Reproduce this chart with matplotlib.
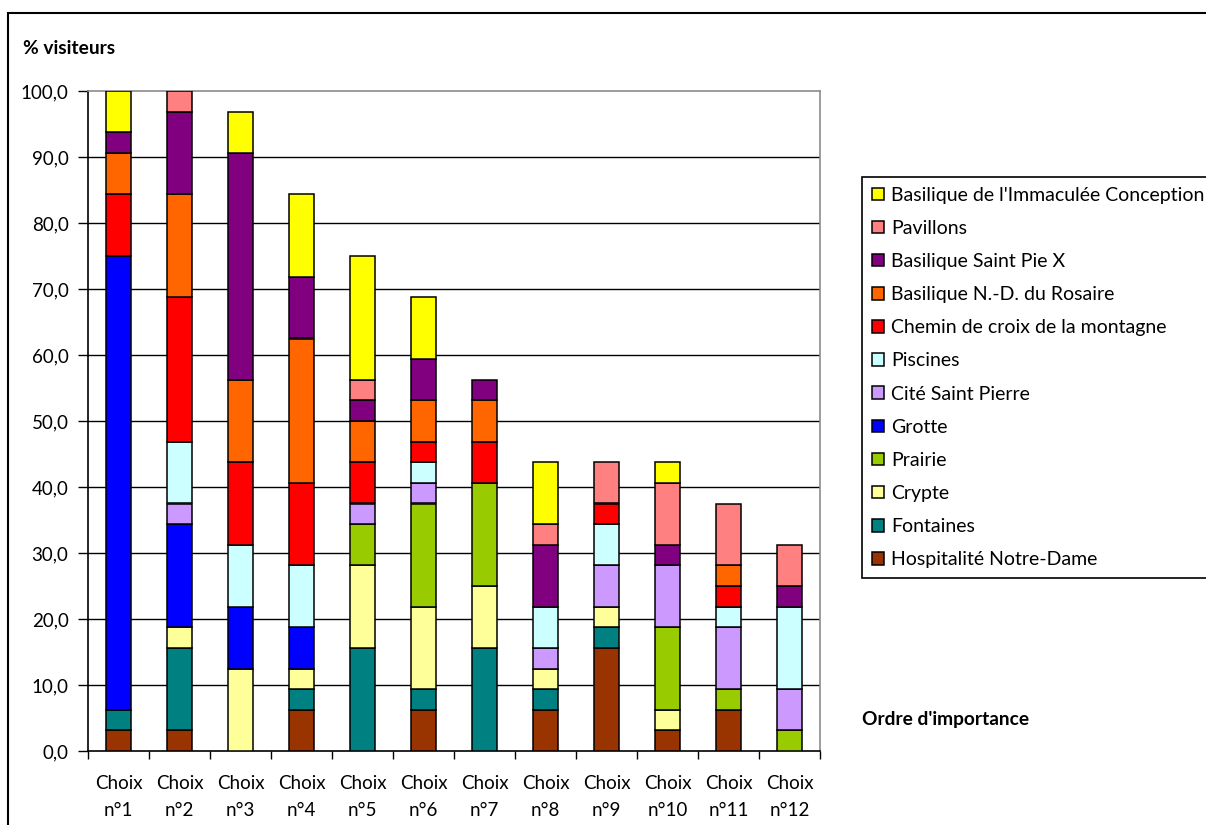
import matplotlib
matplotlib.use("Agg")
import matplotlib.pyplot as plt
import numpy as np
from matplotlib.patches import Rectangle

categories = ["Choix\nn°1", "Choix\nn°2", "Choix\nn°3", "Choix\nn°4", "Choix\nn°5", "Choix\nn°6",
              "Choix\nn°7", "Choix\nn°8", "Choix\nn°9", "Choix\nn°10", "Choix\nn°11", "Choix\nn°12"]

# series, bottom to top of the stack
hospitalite = [3.125, 3.125, 0, 6.25, 0, 6.25, 0, 6.25, 15.625, 3.125, 6.25, 0]
fontaines   = [3.125, 12.5, 0, 3.125, 15.625, 3.125, 15.625, 3.125, 3.125, 0, 0, 0]
crypte      = [0, 3.125, 12.5, 3.125, 12.5, 12.5, 9.375, 3.125, 3.125, 3.125, 0, 0]
prairie     = [0, 0, 0, 0, 6.25, 15.625, 15.625, 0, 0, 12.5, 3.125, 3.125]
grotte      = [68.75, 15.625, 9.375, 6.25, 0, 0, 0, 0, 0, 0, 0, 0]
cite        = [0, 3.125, 0, 0, 3.125, 3.125, 0, 3.125, 6.25, 9.375, 9.375, 6.25]
piscines    = [0, 9.375, 9.375, 9.375, 0, 3.125, 0, 6.25, 6.25, 0, 3.125, 12.5]
chemin      = [9.375, 21.875, 12.5, 12.5, 6.25, 3.125, 6.25, 0, 3.125, 0, 3.125, 0]
rosaire     = [6.25, 15.625, 12.5, 21.875, 6.25, 6.25, 6.25, 0, 0, 0, 3.125, 0]
piex        = [3.125, 12.5, 34.375, 9.375, 3.125, 6.25, 3.125, 9.375, 0, 3.125, 0, 3.125]
pavillons   = [0, 3.125, 0, 0, 3.125, 0, 0, 3.125, 6.25, 9.375, 9.375, 6.25]
immaculee   = [6.25, 0, 6.25, 12.5, 18.75, 9.375, 0, 9.375, 0, 3.125, 0, 0]

series_names = ["Hospitalité Notre-Dame", "Fontaines", "Crypte", "Prairie", "Grotte",
                "Cité Saint Pierre", "Piscines", "Chemin de croix de la montagne",
                "Basilique N.-D. du Rosaire", "Basilique Saint Pie X", "Pavillons",
                "Basilique de l'Immaculée Conception"]
series_values = [hospitalite, fontaines, crypte, prairie, grotte, cite, piscines,
                 chemin, rosaire, piex, pavillons, immaculee]
colors = ["#993300", "#008080", "#FFFF99", "#99CC00", "#0000FF", "#CC99FF",
          "#CCFFFF", "#FF0000", "#FF6600", "#800080", "#FF8080", "#FFFF00"]

yticks = [0, 10, 20, 30, 40, 50, 60, 70, 80, 90, 100]
ytick_labels = ["0,0", "10,0", "20,0", "30,0", "40,0", "50,0", "60,0", "70,0",
                "80,0", "90,0", "100,0"]

FONT = "Lato"
plt.rcParams['font.family'] = [FONT, 'DejaVu Sans']

W, H = 1206, 825
fig = plt.figure(figsize=(W / 100, H / 100), dpi=100)
ax = fig.add_axes([88 / W, 1 - 751 / H, (820 - 88) / W, (751 - 91) / H])

x = np.arange(len(categories))
bottom = np.zeros(len(categories))
handles = []
for name, vals, col in zip(series_names, series_values, colors):
    v = np.array(vals, dtype=float)
    mask = v > 0
    b = ax.bar(x[mask], v[mask], bottom=bottom[mask], width=0.41, color=col,
               edgecolor="black", linewidth=1.1, zorder=3, label=name)
    handles.append(b)
    bottom += v

ax.set_xlim(-0.5, len(categories) - 0.5)
ax.set_ylim(0, 100)
ax.set_yticks(yticks)
ax.set_yticklabels(ytick_labels)
ax.set_xticks(np.arange(len(categories) + 1) - 0.5, minor=False)
ax.set_xticklabels([])
ax.set_xticks(x, minor=True)
ax.set_xticklabels(categories, minor=True, linespacing=1.75)
ax.tick_params(axis='x', which='minor', length=0, pad=17, labelsize=13.5)
ax.tick_params(axis='x', which='major', length=6, width=1, direction='out')
ax.tick_params(axis='y', length=7, width=1, direction='out', pad=7, labelsize=13.5)

for yv in yticks[1:-1]:
    ax.axhline(yv, color="black", linewidth=1, zorder=1)

for s in ["top", "right"]:
    ax.spines[s].set_color("#8c8c8c")
    ax.spines[s].set_linewidth(1.2)
for s in ["left", "bottom"]:
    ax.spines[s].set_color("black")
    ax.spines[s].set_linewidth(1.2)

fig.text(23 / W, 1 - 48 / H, "% visiteurs", fontsize=13.8, fontweight="bold",
         va="center", ha="left")
fig.text(862 / W, 1 - 720 / H, "Ordre d'importance", fontsize=13.8, fontweight="bold",
         va="center", ha="left")

leg = fig.legend(handles[::-1], series_names[::-1], loc="upper left",
                 bbox_to_anchor=(862 / W, 1 - 177 / H), frameon=True, fancybox=False,
                 edgecolor="black", framealpha=1, fontsize=14, labelspacing=0.83,
                 handlelength=0.62, handleheight=0.62, handletextpad=0.36,
                 borderpad=0.5, borderaxespad=0)
leg.get_frame().set_linewidth(1.2)

# outer chart-area border
fig.patches.append(Rectangle((8 / W, -0.1), 1.2, 1 - 13 / H + 0.1, transform=fig.transFigure,
                             fill=False, edgecolor="black", linewidth=1.5))

fig.savefig("out.png", dpi=100)
